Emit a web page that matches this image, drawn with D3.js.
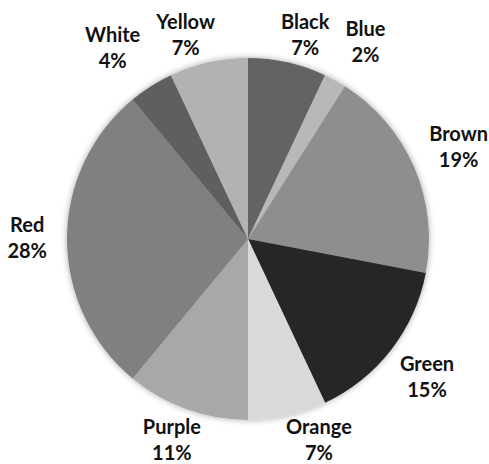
<!DOCTYPE html>
<html>
<head>
<meta charset="utf-8">
<script src="https://cdn.jsdelivr.net/npm/d3@7"></script>
<style>
  html, body { margin: 0; padding: 0; background: #fff; }
  svg text { font-family: Lato, "Open Sans", sans-serif; font-weight: bold; fill: #111; }
</style>
</head>
<body>
<svg id="chart" width="489" height="464"></svg>
<script>
// Share of each colour, in percent, clockwise from 12 o'clock
const categories = ["Black", "Blue", "Brown", "Green", "Orange", "Purple", "Red", "White", "Yellow"];
const shares = [7, 2, 19, 15, 7, 11, 28, 4, 7];
const fills = ["#636363", "#b8b8b8", "#8e8e8e", "#252525", "#d9d9d9", "#a8a8a8", "#808080", "#5e5e5e", "#b2b2b2"];

const svg = d3.select("#chart");
const cx = 248, cy = 239, radius = 181;

const defs = svg.append("defs");
const glow = defs.append("filter").attr("id", "soft").attr("x", "-20%").attr("y", "-20%").attr("width", "140%").attr("height", "140%");
glow.append("feDropShadow").attr("dx", 0).attr("dy", 0).attr("stdDeviation", 3)
  .attr("flood-color", "#000").attr("flood-opacity", 0.35);

const data = categories.map((c, i) => ({ name: c, value: shares[i], fill: fills[i] }));
const pie = d3.pie().value(d => d.value).sort(null);
const arc = d3.arc().innerRadius(0).outerRadius(radius);
const arcs = pie(data);

const g = svg.append("g").attr("transform", `translate(${cx},${cy})`);
g.append("g").attr("filter", "url(#soft)")
  .selectAll("path").data(arcs).join("path")
  .attr("d", arc)
  .attr("fill", d => d.data.fill);

// Labels sit outside the rim; blocks that would leave the frame are held
// at the edge and slid sideways until they clear the pie, then any block
// that collides with a neighbour is pushed horizontally outward.
const fmt = d => `${d3.format(".0f")(d.data.value)}%`;
const fontSize = 20, lineGap = 26, gap = 20, minGap = 2, sepGap = 16, h = 46;
const minY = 36 - cy, maxY = 441 - cy;

const boxes = [];
const labels = g.append("g").selectAll("g").data(arcs).join("g");
labels.each(function(d) {
  const sel = d3.select(this);
  const t1 = sel.append("text").attr("text-anchor", "middle").style("font-size", fontSize + "px").text(d.data.name);
  const t2 = sel.append("text").attr("text-anchor", "middle").style("font-size", fontSize + "px").text(fmt(d));
  const w = Math.max(t1.node().getComputedTextLength(), t2.node().getComputedTextLength());
  const a = (d.startAngle + d.endAngle) / 2;
  const s = Math.sin(a), c = Math.cos(a);
  const ext = Math.sqrt((w / 2 * s) ** 2 + (h / 2 * c) ** 2);
  const dist = radius + gap + ext;
  let x = dist * s, y = -dist * c;
  const yc = Math.max(minY, Math.min(maxY, y));
  const clamped = yc !== y;
  y = yc;
  const ny = Math.max(0, Math.abs(y) - h / 2);
  const nx = Math.max(0, Math.abs(x) - w / 2);
  const need = radius + minGap;
  if (Math.hypot(nx, ny) < need && ny < need) {
    x = Math.sign(x || 1) * (Math.sqrt(need * need - ny * ny) + w / 2);
  }
  boxes.push({ t1, t2, x, y, w, clamped });
});

const overlaps = (p, q) =>
  Math.abs(p.x - q.x) < (p.w + q.w) / 2 + sepGap && Math.abs(p.y - q.y) < h;
const placed = boxes.filter(b => b.clamped);
boxes.filter(b => !b.clamped).forEach(b => {
  placed.forEach(o => {
    if (overlaps(b, o)) {
      const dir = Math.sign(b.x - o.x) || 1;
      b.x = o.x + dir * ((b.w + o.w) / 2 + sepGap);
    }
  });
  placed.push(b);
});

boxes.forEach(b => {
  b.t1.attr("x", b.x).attr("y", b.y - 7);
  b.t2.attr("x", b.x).attr("y", b.y - 7 + lineGap);
});
</script>
</body>
</html>
